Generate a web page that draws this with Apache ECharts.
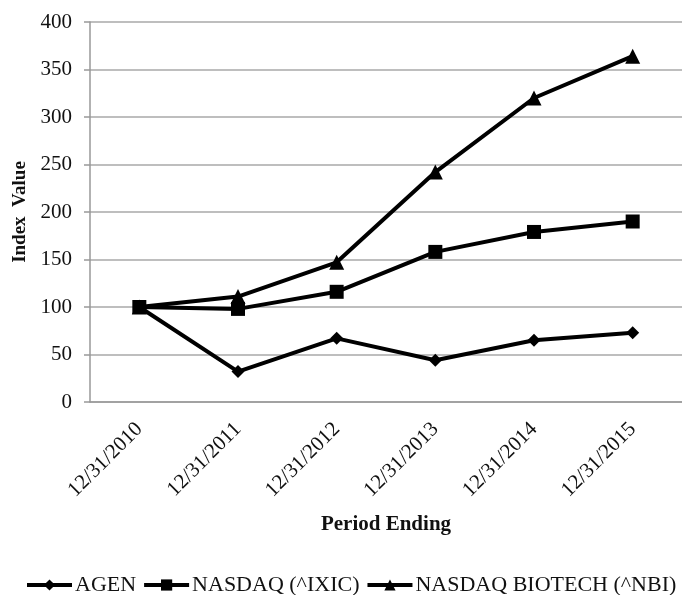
<!DOCTYPE html>
<html>
<head>
<meta charset="utf-8">
<script src="https://cdn.jsdelivr.net/npm/echarts@6/dist/echarts.min.js"></script>
<style>
    html, body { margin: 0; padding: 0; background: #fff; }
    #chart { width: 682px; height: 595px; }
</style>
</head>
<body>
<div id="chart"></div>
<script>
var periods = ['12/31/2010', '12/31/2011', '12/31/2012', '12/31/2013', '12/31/2014', '12/31/2015'];
var agen = [100, 32, 67, 44, 65, 73];
var nasdaq = [100, 98, 116, 158, 179, 190];
var biotech = [100, 111, 147, 242, 320, 364];

var serif = '"Liberation Serif", "DejaVu Serif", serif';
var myChart = echarts.init(document.getElementById('chart'));

function lineSeries(name, data, symbol, size) {
    return {
        name: name,
        type: 'line',
        data: data,
        symbol: symbol,
        symbolSize: size,
        showAllSymbol: true,
        lineStyle: { color: '#000', width: 4 },
        itemStyle: { color: '#000' },
        emphasis: { disabled: true }
    };
}

var option = {
    animation: false,
    textStyle: { fontFamily: serif },
    grid: {
        left: 90,
        top: 22,
        width: 598,
        height: 380
    },
    legend: {
        left: 20,
        top: 569,
        itemWidth: 45,
        itemHeight: 14,
        itemGap: 6,
        lineStyle: { width: 4, color: '#000' },
        textStyle: { fontFamily: serif, fontSize: 22, color: '#111', padding: [0, 0, 0, -2] },
        data: ['AGEN', 'NASDAQ (^IXIC)', 'NASDAQ BIOTECH (^NBI)']
    },
    xAxis: {
        type: 'category',
        data: periods,
        name: 'Period Ending',
        nameLocation: 'middle',
        nameGap: 112,
        nameTextStyle: { fontFamily: serif, fontSize: 21, fontWeight: 'bold', color: '#111' },
        axisLine: { lineStyle: { color: '#999', width: 1.5 } },
        axisTick: { show: false },
        axisLabel: {
            rotate: 45,
            margin: 24,
            fontFamily: serif,
            fontSize: 21,
            color: '#111'
        }
    },
    yAxis: {
        type: 'value',
        min: 0,
        max: 400,
        interval: 50,
        name: 'Index  Value',
        nameLocation: 'middle',
        nameGap: 60,
        nameTextStyle: { fontFamily: serif, fontSize: 19, fontWeight: 'bold', color: '#111' },
        axisLine: { show: true, lineStyle: { color: '#999', width: 1.5 } },
        axisTick: { show: true, length: 6, lineStyle: { color: '#999', width: 1.5 } },
        axisLabel: { margin: 18, fontFamily: serif, fontSize: 21, color: '#111' },
        splitLine: { lineStyle: { color: '#a8a8a8', width: 1.5 } }
    },
    series: [
        lineSeries('AGEN', agen, 'diamond', 13),
        lineSeries('NASDAQ (^IXIC)', nasdaq, 'rect', 14),
        lineSeries('NASDAQ BIOTECH (^NBI)', biotech, 'triangle', 15)
    ]
};

myChart.setOption(option);
</script>
</body>
</html>
